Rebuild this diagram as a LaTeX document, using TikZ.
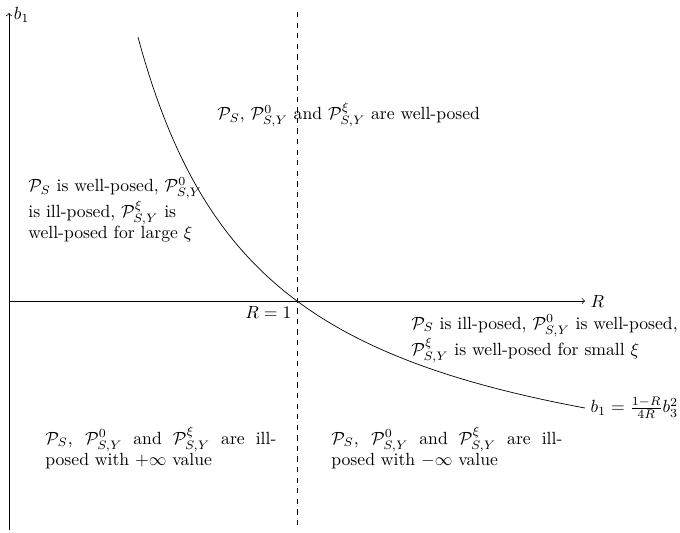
\documentclass[tikz,border=0pt]{standalone}
\usepackage{amsmath}
\begin{document}
\begin{tikzpicture}[x=0.567pt,y=-0.567pt,
  axis/.style={->,line width=0.4pt},
  region/.style={align=left,inner sep=0pt,font=\normalsize},
  jregion/.style={align=justify,inner sep=0pt,text width=131pt}]
\useasboundingbox (0,0) rectangle (680,533);
\coordinate (ybot) at (9,530);
\coordinate (ytop) at (9,13);
\coordinate (xleft) at (9,301);
\coordinate (xright) at (585,301);
\coordinate (dtop) at (297,12);
\coordinate (dbot) at (297,530);
\coordinate (crit) at (297,301);
\draw[axis] (ybot) -- (ytop) node[right,inner sep=2.5pt,yshift=-1pt] (lb1) {$b_1$};
\draw[axis] (xleft) -- (xright) node[right,inner sep=3pt] (lR) {$R$};
\draw[dashed] (dtop) -- (dbot);
\node[below left,inner sep=3pt] (lR1) at (crit) {$R=1$};
\draw plot[domain=138:585,samples=120] (\x,{301-214*((297-\x)/(\x-9))});
\coordinate (cend) at (585,408);
\node[right,inner sep=3pt] (lcurve) at (cend) {$b_1=\frac{1-R}{4R}b_3^2$};
\node[region,anchor=west] (top) at (217,115)
  {$\mathcal{P}_S$, $\mathcal{P}_{S,Y}^0$ and $\mathcal{P}_{S,Y}^\xi$ are well-posed};
\node[region,anchor=west] (left) at (28,210)
  {$\mathcal{P}_S$ is well-posed, $\mathcal{P}_{S,Y}^0$\\
   is ill-posed, $\mathcal{P}_{S,Y}^\xi$ is\\
   well-posed for large $\xi$};
\node[region,anchor=west] (right) at (411,339)
  {$\mathcal{P}_S$ is ill-posed, $\mathcal{P}_{S,Y}^0$ is well-posed,\\
   $\mathcal{P}_{S,Y}^\xi$ is well-posed for small $\xi$};
\node[jregion,anchor=west] (bl) at (45,448)
  {$\mathcal{P}_S$, $\mathcal{P}_{S,Y}^0$ and $\mathcal{P}_{S,Y}^\xi$ are ill-\linebreak
   posed with $+\infty$ value};
\node[jregion,anchor=west] (br) at (331,448)
  {$\mathcal{P}_S$, $\mathcal{P}_{S,Y}^0$ and $\mathcal{P}_{S,Y}^\xi$ are ill-\linebreak
   posed with $-\infty$ value};
\end{tikzpicture}
\end{document}
